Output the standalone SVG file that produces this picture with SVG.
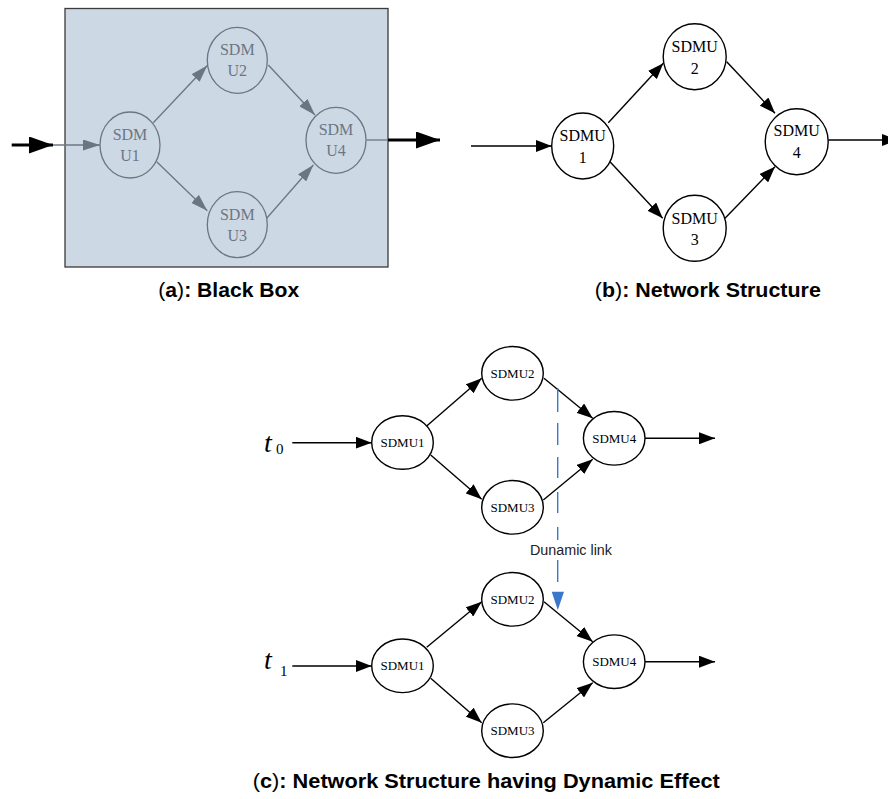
<svg xmlns="http://www.w3.org/2000/svg" width="888" height="799" viewBox="0 0 888 799">
<style>
.bg{fill:#ffffff}
.box{fill:#cdd8e5;stroke:#3a3a3a;stroke-width:1.3}
.gnode{fill:none;stroke:#6b7684;stroke-width:1.3}
.bnode{fill:#ffffff;stroke:#000000;stroke-width:1.4}
.gtxt{font-family:"Liberation Serif",serif;font-size:16px;fill:#6b7684;text-anchor:middle}
.btxt{font-family:"Liberation Serif",serif;font-size:16px;fill:#000000;text-anchor:middle}
.ctxt{font-family:"Liberation Serif",serif;font-size:13px;fill:#000000;text-anchor:middle}
.cap{font-family:"Liberation Sans",Arial,sans-serif;font-size:20px;font-weight:bold;fill:#000000;text-anchor:middle}
.gline{stroke:#6b7684;stroke-width:1.3;fill:none}
.bline{stroke:#000000;stroke-width:1.4;fill:none}
.thick{stroke:#000000;stroke-width:3;fill:none}
.dyn{stroke:#3b78c9;stroke-width:1.4;fill:none}
.tvar{font-family:"Liberation Serif",serif;font-style:italic;font-size:28px;fill:#000000}
.tsub{font-family:"Liberation Serif",serif;font-size:15px;fill:#000000}
.lbl{font-family:"Liberation Sans",Arial,sans-serif;font-size:14px;fill:#222222}
</style>
<defs>
<marker id="arrB" markerUnits="userSpaceOnUse" markerWidth="16" markerHeight="12" refX="16" refY="6" orient="auto"><path d="M0,0 L16,6 L0,12 z" fill="#000000"/></marker>
<marker id="arrG" markerUnits="userSpaceOnUse" markerWidth="17" markerHeight="11" refX="17" refY="5.5" orient="auto"><path d="M0,0 L17,5.5 L0,11 z" fill="#6b7684"/></marker>
<marker id="arrT" markerUnits="userSpaceOnUse" markerWidth="24" markerHeight="17" refX="24" refY="8.5" orient="auto"><path d="M0,0 L24,8.5 L0,17 z" fill="#000000"/></marker>
</defs>
<rect class="bg" x="0" y="0" width="888" height="799"/>

<!-- Panel (a) -->
<g id="a_box"><rect class="box" x="65" y="8.5" width="323" height="258.5"/></g>
<g id="a_U1"><ellipse class="gnode" cx="130" cy="145" rx="30" ry="33"/><text class="gtxt" x="130" y="140">SDM</text><text class="gtxt" x="130" y="161">U1</text></g>
<g id="a_U2"><ellipse class="gnode" cx="237.3" cy="60.3" rx="30" ry="33"/><text class="gtxt" x="237.3" y="55.3">SDM</text><text class="gtxt" x="237.3" y="76.3">U2</text></g>
<g id="a_U3"><ellipse class="gnode" cx="237.3" cy="224.7" rx="30" ry="33"/><text class="gtxt" x="237.3" y="219.7">SDM</text><text class="gtxt" x="237.3" y="240.7">U3</text></g>
<g id="a_U4"><ellipse class="gnode" cx="336" cy="140.3" rx="30" ry="33"/><text class="gtxt" x="336" y="135.3">SDM</text><text class="gtxt" x="336" y="156.3">U4</text></g>

<!-- Panel (b) -->
<g id="b_U1"><ellipse class="bnode" cx="582.7" cy="146" rx="31" ry="33"/><text class="btxt" x="582.7" y="141">SDMU</text><text class="btxt" x="582.7" y="162.5">1</text></g>
<g id="b_U2"><ellipse class="bnode" cx="694.7" cy="56.7" rx="31.5" ry="33"/><text class="btxt" x="694.7" y="52">SDMU</text><text class="btxt" x="694.7" y="73.5">2</text></g>
<g id="b_U3"><ellipse class="bnode" cx="694.7" cy="228.3" rx="31.5" ry="33"/><text class="btxt" x="694.7" y="223.5">SDMU</text><text class="btxt" x="694.7" y="245">3</text></g>
<g id="b_U4"><ellipse class="bnode" cx="796.7" cy="141.7" rx="31.5" ry="33"/><text class="btxt" x="796.7" y="136">SDMU</text><text class="btxt" x="796.7" y="157.5">4</text></g>

<!-- Panel (c) top -->
<g id="c0_t"><text class="tvar" x="264" y="452">t</text><text class="tsub" x="276" y="454">0</text></g>
<g id="c0_U1"><ellipse class="bnode" cx="402.5" cy="442.5" rx="30.8" ry="26.8"/><text class="ctxt" x="402.5" y="447">SDMU1</text></g>
<g id="c0_U2"><ellipse class="bnode" cx="512.5" cy="373.3" rx="30.8" ry="26.8"/><text class="ctxt" x="512.5" y="377.8">SDMU2</text></g>
<g id="c0_U3"><ellipse class="bnode" cx="512.5" cy="507.3" rx="30.8" ry="26.8"/><text class="ctxt" x="512.5" y="511.8">SDMU3</text></g>
<g id="c0_U4"><ellipse class="bnode" cx="614.2" cy="438.3" rx="30.8" ry="26.8"/><text class="ctxt" x="614.2" y="442.8">SDMU4</text></g>

<!-- Panel (c) bottom -->
<g id="c1_t"><text class="tvar" x="264" y="668.5">t</text><text class="tsub" x="280" y="675.5">1</text></g>
<g id="c1_U1"><ellipse class="bnode" cx="402.5" cy="665.8" rx="30.8" ry="26.8"/><text class="ctxt" x="402.5" y="670.3">SDMU1</text></g>
<g id="c1_U2"><ellipse class="bnode" cx="512.5" cy="599.3" rx="30.8" ry="26.8"/><text class="ctxt" x="512.5" y="603.8">SDMU2</text></g>
<g id="c1_U3"><ellipse class="bnode" cx="512.5" cy="730.7" rx="30.8" ry="26.8"/><text class="ctxt" x="512.5" y="735.2">SDMU3</text></g>
<g id="c1_U4"><ellipse class="bnode" cx="614.2" cy="661.7" rx="30.8" ry="26.8"/><text class="ctxt" x="614.2" y="666.2">SDMU4</text></g>

<!-- Connectors -->
<g id="connectors">
<!-- (a) -->
<line class="thick" x1="11.7" y1="145" x2="53" y2="145" marker-end="url(#arrT)"/>
<line class="gline" x1="53" y1="145" x2="100" y2="145" marker-end="url(#arrG)"/>
<line class="gline" x1="153.3" y1="122.7" x2="207.3" y2="65.5" marker-end="url(#arrG)"/>
<line class="gline" x1="156.7" y1="161.7" x2="207.3" y2="210.7" marker-end="url(#arrG)"/>
<line class="gline" x1="268.3" y1="65" x2="315" y2="115" marker-end="url(#arrG)"/>
<line class="gline" x1="266.7" y1="218.3" x2="313.3" y2="165" marker-end="url(#arrG)"/>
<line class="gline" x1="366.5" y1="140" x2="388" y2="140"/>
<line class="thick" x1="388" y1="140" x2="440" y2="140" marker-end="url(#arrT)"/>
<!-- (b) -->
<line class="bline" x1="471" y1="146" x2="551.7" y2="146" marker-end="url(#arrB)"/>
<line class="bline" x1="608.3" y1="122.7" x2="663.3" y2="63.3" marker-end="url(#arrB)"/>
<line class="bline" x1="610" y1="161.7" x2="662.7" y2="218.3" marker-end="url(#arrB)"/>
<line class="bline" x1="726.7" y1="61.7" x2="775" y2="113.3" marker-end="url(#arrB)"/>
<line class="bline" x1="725" y1="218.3" x2="775" y2="166.7" marker-end="url(#arrB)"/>
<line class="bline" x1="828.3" y1="140" x2="898" y2="140" marker-end="url(#arrB)"/>
<!-- (c) top -->
<line class="bline" x1="292.3" y1="442.7" x2="371.7" y2="442.7" marker-end="url(#arrB)"/>
<line class="bline" x1="426.7" y1="426" x2="481.7" y2="378.3" marker-end="url(#arrB)"/>
<line class="bline" x1="430.7" y1="455" x2="481.7" y2="499.3" marker-end="url(#arrB)"/>
<line class="bline" x1="544" y1="378.3" x2="592.7" y2="418.3" marker-end="url(#arrB)"/>
<line class="bline" x1="543.3" y1="500" x2="592.7" y2="459.3" marker-end="url(#arrB)"/>
<line class="bline" x1="645" y1="438.3" x2="715" y2="438.3" marker-end="url(#arrB)"/>
<!-- (c) bottom -->
<line class="bline" x1="292.3" y1="666" x2="371.7" y2="666" marker-end="url(#arrB)"/>
<line class="bline" x1="426.7" y1="647.3" x2="481.7" y2="601.7" marker-end="url(#arrB)"/>
<line class="bline" x1="430.7" y1="678.3" x2="481.7" y2="722.7" marker-end="url(#arrB)"/>
<line class="bline" x1="544" y1="601.7" x2="592.7" y2="641.7" marker-end="url(#arrB)"/>
<line class="bline" x1="543.3" y1="722.7" x2="592.7" y2="682.7" marker-end="url(#arrB)"/>
<line class="bline" x1="645" y1="661.7" x2="715" y2="661.7" marker-end="url(#arrB)"/>
<!-- Dynamic link -->
<path class="dyn" d="M557.7,388 V412 M557.7,423 V445 M557.7,457 V478 M557.7,492 V513 M557.7,527 V540 M557.7,560 V582"/>
<path d="M551.7,591.7 L564,591.7 L557.8,610 z" fill="#3b78c9"/>
</g>
<g id="dyn_label"><text class="lbl" x="530" y="555" textLength="82" lengthAdjust="spacingAndGlyphs">Dunamic link</text></g>

<!-- Captions -->
<g id="captions">
<text class="cap" x="228.8" y="296.7" textLength="141" lengthAdjust="spacingAndGlyphs"><tspan font-weight="normal">(</tspan>a<tspan font-weight="normal">)</tspan>: Black Box</text>
<text class="cap" x="707.8" y="297.3" textLength="226" lengthAdjust="spacingAndGlyphs"><tspan font-weight="normal">(</tspan>b<tspan font-weight="normal">)</tspan>: Network Structure</text>
<text class="cap" x="486.3" y="788.3" textLength="467" lengthAdjust="spacingAndGlyphs"><tspan font-weight="normal">(</tspan>c<tspan font-weight="normal">)</tspan>: Network Structure having Dynamic Effect</text>
</g>
</svg>
